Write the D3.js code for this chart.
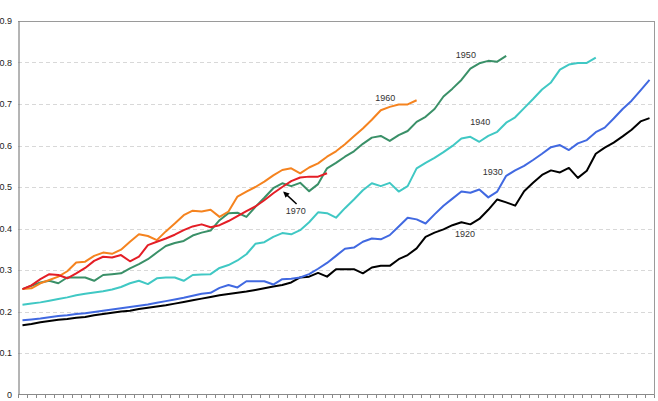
<!DOCTYPE html>
<html>
<head>
<meta charset="utf-8">
<script src="https://cdn.jsdelivr.net/npm/d3@7"></script>
<style>
  body { margin: 0; background: #fff; }
  svg { display: block; font-family: "Liberation Sans", Arial, sans-serif; }
</style>
</head>
<body>
<div id="chart"></div>
<script>
// 71 categories along the x axis (no labels shown)
var categories = d3.range(71);
var yTicks = [0, 0.1, 0.2, 0.3, 0.4, 0.5, 0.6, 0.7, 0.8, 0.9];

var cohort1920 = [0.167,0.170,0.174,0.177,0.180,0.182,0.185,0.187,0.191,0.194,
                  0.197,0.200,0.202,0.206,0.209,0.212,0.215,0.219,0.223,0.227,
                  0.231,0.235,0.239,0.242,0.245,0.248,0.252,0.256,0.260,0.264,
                  0.270,0.282,0.284,0.293,0.284,0.302,0.302,0.302,0.292,0.306,
                  0.310,0.310,0.326,0.336,0.352,0.380,0.390,0.398,0.408,0.415,
                  0.410,0.423,0.445,0.470,0.463,0.455,0.490,0.510,0.529,0.540,
                  0.535,0.546,0.522,0.539,0.580,0.595,0.607,0.622,0.638,0.658,0.666];
var cohort1930 = [0.179,0.181,0.183,0.186,0.189,0.191,0.194,0.196,0.199,0.202,
                  0.205,0.208,0.211,0.214,0.217,0.221,0.225,0.229,0.233,0.238,
                  0.243,0.245,0.257,0.264,0.258,0.273,0.273,0.273,0.265,0.278,
                  0.279,0.282,0.290,0.303,0.317,0.334,0.351,0.354,0.368,0.376,
                  0.374,0.384,0.405,0.426,0.422,0.412,0.434,0.455,0.472,0.489,
                  0.486,0.494,0.475,0.489,0.527,0.540,0.551,0.565,0.580,0.596,
                  0.601,0.589,0.605,0.613,0.632,0.643,0.665,0.688,0.708,0.733,0.758];
var cohort1940 = [0.216,0.219,0.222,0.226,0.230,0.234,0.239,0.243,0.246,0.249,
                  0.253,0.259,0.268,0.274,0.266,0.280,0.282,0.282,0.274,0.288,
                  0.289,0.290,0.305,0.312,0.323,0.338,0.363,0.367,0.380,0.389,
                  0.386,0.396,0.415,0.439,0.437,0.426,0.449,0.470,0.492,0.509,
                  0.502,0.510,0.489,0.502,0.545,0.558,0.570,0.584,0.599,0.617,
                  0.621,0.609,0.623,0.633,0.655,0.668,0.690,0.712,0.735,0.752,
                  0.783,0.795,0.799,0.799,0.812];
var cohort1950 = [0.254,0.262,0.270,0.274,0.268,0.282,0.282,0.282,0.274,0.288,
                  0.290,0.292,0.304,0.314,0.326,0.342,0.358,0.365,0.370,0.383,
                  0.390,0.395,0.420,0.437,0.438,0.428,0.452,0.474,0.497,0.509,
                  0.502,0.510,0.490,0.507,0.545,0.558,0.573,0.586,0.604,0.619,
                  0.623,0.611,0.625,0.635,0.657,0.669,0.688,0.718,0.737,0.758,
                  0.785,0.798,0.804,0.802,0.816];
var cohort1960 = [0.254,0.256,0.268,0.276,0.284,0.297,0.318,0.320,0.334,0.342,
                  0.339,0.349,0.368,0.386,0.382,0.372,0.393,0.412,0.432,0.443,
                  0.441,0.445,0.428,0.441,0.477,0.489,0.500,0.513,0.528,0.541,
                  0.545,0.533,0.547,0.557,0.573,0.586,0.603,0.622,0.641,0.662,
                  0.685,0.693,0.699,0.699,0.709];
var cohort1970 = [0.254,0.263,0.278,0.290,0.288,0.280,0.292,0.305,0.322,0.332,
                  0.330,0.336,0.321,0.332,0.360,0.368,0.376,0.385,0.396,0.405,
                  0.410,0.403,0.408,0.418,0.430,0.442,0.453,0.468,0.485,0.500,
                  0.514,0.523,0.525,0.525,0.533];

var series = [
  { name: "1920", values: cohort1920, color: "#000000" },
  { name: "1930", values: cohort1930, color: "#4169e1" },
  { name: "1940", values: cohort1940, color: "#40c8c4" },
  { name: "1950", values: cohort1950, color: "#3a9068" },
  { name: "1960", values: cohort1960, color: "#f5831f" },
  { name: "1970", values: cohort1970, color: "#e41e26" }
];

var width = 658,
    height = 401,
    plotLeft = 18, plotRight = 654, plotTop = 21, plotBottom = 394.5;

var svg = d3.select("#chart").append("svg")
    .attr("width", width)
    .attr("height", height);

var x = d3.scaleBand().domain(categories).range([plotLeft, plotRight]);
var y = d3.scaleLinear().domain([0, 0.9]).range([plotBottom, plotTop]);
var cx = function(i) { return x(i) + x.bandwidth() / 2; };

// dashed gridlines
svg.append("g").selectAll("line")
    .data(yTicks.filter(function(d) { return d > 0 && d < 0.9; }))
    .enter().append("line")
    .attr("x1", plotLeft).attr("x2", plotRight)
    .attr("y1", function(d) { return Math.round(y(d)) + 0.5; })
    .attr("y2", function(d) { return Math.round(y(d)) + 0.5; })
    .style("stroke", "#d8d8d8")
    .style("stroke-dasharray", "4,3");

// plot frame top / right
svg.append("line")
    .attr("x1", plotLeft).attr("x2", plotRight + 0.5)
    .attr("y1", plotTop + 0.5).attr("y2", plotTop + 0.5)
    .style("stroke", "#9a9a9a");
svg.append("line")
    .attr("x1", plotRight + 0.5).attr("x2", plotRight + 0.5)
    .attr("y1", plotTop).attr("y2", plotBottom)
    .style("stroke", "#9a9a9a");

// y axis
var yAxis = d3.axisLeft(y)
    .tickValues(yTicks)
    .tickSize(0)
    .tickPadding(6.5)
    .tickFormat(function(d) { return d === 0 ? "0" : d.toFixed(1); });
var gy = svg.append("g")
    .attr("transform", "translate(" + (plotLeft + 0.5) + ",0)")
    .call(yAxis);
gy.select(".domain").style("stroke", "#6a6a6a");
gy.selectAll("text")
    .style("font-size", "9px")
    .style("fill", "#222")
    .style("font-family", "'Liberation Sans', Arial, sans-serif");

// x axis with ticks between categories
var axisY = Math.round(plotBottom) - 0.5;
svg.append("line")
    .attr("x1", plotLeft).attr("x2", plotRight + 0.5)
    .attr("y1", axisY).attr("y2", axisY)
    .style("stroke", "#8a8a8a");
svg.append("g").selectAll("line")
    .data(d3.range(categories.length + 1))
    .enter().append("line")
    .attr("x1", function(i) { return Math.round(plotLeft + i * x.step()) + 0.5; })
    .attr("x2", function(i) { return Math.round(plotLeft + i * x.step()) + 0.5; })
    .attr("y1", axisY)
    .attr("y2", axisY + 3.5)
    .style("stroke", "#8a8a8a");

// lines
var line = d3.line()
    .x(function(d, i) { return cx(i); })
    .y(function(d) { return y(d); });

svg.append("g").selectAll("path")
    .data(series)
    .enter().append("path")
    .attr("d", function(s) { return line(s.values); })
    .style("fill", "none")
    .style("stroke", function(s) { return s.color; })
    .style("stroke-width", 2)
    .style("stroke-linejoin", "round");

// cohort labels (category index, value)
var labelNames = ["1920", "1930", "1940", "1950", "1960", "1970"];
var labelAt = [[49.4, 0.387], [52.5, 0.536], [51.1, 0.657], [49.5, 0.818], [40.5, 0.714], [30.5, 0.442]];

svg.append("g").selectAll("text")
    .data(labelNames)
    .enter().append("text")
    .attr("x", function(d, i) { return cx(0) + labelAt[i][0] * x.step(); })
    .attr("y", function(d, i) { return y(labelAt[i][1]); })
    .attr("dy", "0.35em")
    .style("text-anchor", "middle")
    .style("font-size", "9px")
    .style("fill", "#333")
    .text(function(d) { return d; });

// arrow for 1970
svg.append("defs").append("marker")
    .attr("id", "head")
    .attr("viewBox", "0 0 10 10")
    .attr("refX", 8).attr("refY", 5)
    .attr("markerWidth", 4).attr("markerHeight", 4)
    .attr("orient", "auto")
    .append("path")
    .attr("d", "M0,0L10,5L0,10Z")
    .style("fill", "#000");

svg.append("line")
    .attr("x1", cx(0) + 30.6 * x.step()).attr("y1", y(0.459))
    .attr("x2", cx(0) + 29.2 * x.step()).attr("y2", y(0.487))
    .style("stroke", "#000")
    .style("stroke-width", 1.5)
    .attr("marker-end", "url(#head)");
</script>
</body>
</html>
